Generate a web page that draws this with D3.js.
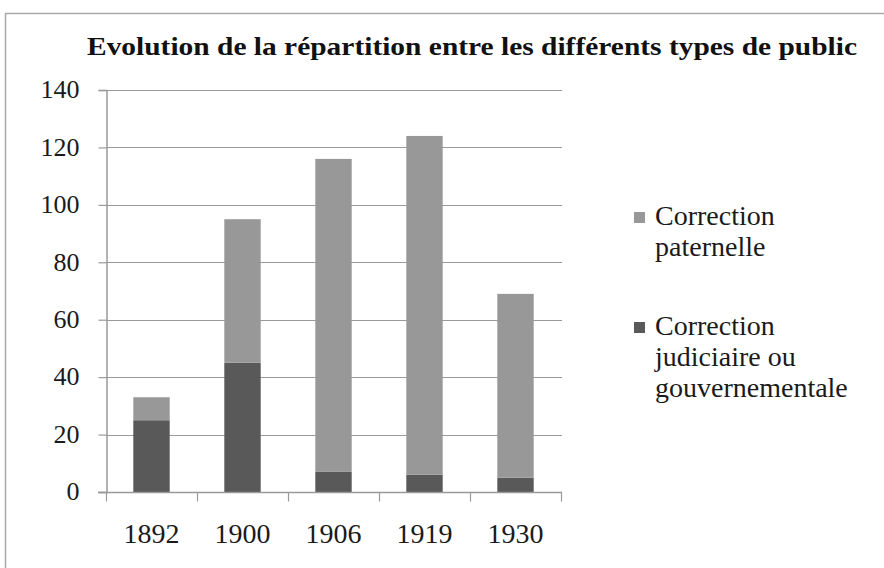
<!DOCTYPE html>
<html>
<head>
<meta charset="utf-8">
<script src="https://cdn.jsdelivr.net/npm/d3@7"></script>
<style>
    html, body { margin: 0; padding: 0; background: #fff; }
    svg { display: block; }
    svg text { font-family: "Liberation Serif", "Times New Roman", serif !important; }
</style>
</head>
<body>
<svg id="chart" width="884" height="568"></svg>
<script>
(function () {
    'use strict';

    // data
    const years = ['1892', '1900', '1906', '1919', '1930'];
    const judiciaire = [25, 45, 7, 6, 5];
    const paternelle = [8, 50, 109, 118, 64];
    const yTicks = [0, 20, 40, 60, 80, 100, 120, 140];
    const seriesKeys = ['judiciaire', 'paternelle'];
    const legendItems = [
        { key: 'paternelle', lines: ['Correction', 'paternelle'] },
        { key: 'judiciaire', lines: ['Correction', 'judiciaire ou', 'gouvernementale'] },
    ];
    const title = 'Evolution de la répartition entre les différents types de public';

    const colors = { paternelle: '#989898', judiciaire: '#595959' };
    const plot = { left: 106, right: 561, top: 90, bottom: 492 };

    const svg = d3.select('#chart');

    // outer chart frame
    svg.append('rect')
        .attr('x', 5.5).attr('y', 13.5)
        .attr('width', 890).attr('height', 570)
        .attr('fill', 'none')
        .attr('stroke', '#a8a8a8')
        .attr('stroke-width', 1.5);

    svg.append('text')
        .attr('x', 87).attr('y', 55)
        .attr('font-size', 26)
        .attr('font-weight', 700)
        .attr('fill', '#111')
        .attr('textLength', 770)
        .attr('lengthAdjust', 'spacingAndGlyphs')
        .text(title);

    const rows = years.map((year, i) => ({ year, judiciaire: judiciaire[i], paternelle: paternelle[i] }));
    const stacked = d3.stack().keys(seriesKeys)(rows);

    const x = d3.scaleBand()
        .domain(years)
        .range([plot.left, plot.right])
        .paddingInner(0.6)
        .paddingOuter(0.3);

    const y = d3.scaleLinear()
        .domain([0, 140])
        .range([plot.bottom, plot.top]);

    // gridlines
    svg.append('g')
        .selectAll('line')
        .data(yTicks.filter((d) => d > 0))
        .join('line')
        .attr('x1', plot.left).attr('x2', plot.right + 1)
        .attr('y1', (d) => Math.round(y(d)) + 0.5)
        .attr('y2', (d) => Math.round(y(d)) + 0.5)
        .attr('stroke', '#9a9a9a')
        .attr('stroke-width', 1.2);

    // bars
    svg.append('g')
        .selectAll('g')
        .data(stacked)
        .join('g')
        .attr('fill', (s) => colors[s.key])
        .selectAll('rect')
        .data((s) => s)
        .join('rect')
        .attr('x', (d) => x(d.data.year))
        .attr('width', x.bandwidth())
        .attr('y', (d) => y(d[1]))
        .attr('height', (d) => y(d[0]) - y(d[1]));

    // y axis
    const yAxis = svg.append('g')
        .attr('transform', `translate(${plot.left + 0.5},0)`)
        .call(d3.axisLeft(y).tickValues(yTicks).tickSize(8).tickPadding(19));
    yAxis.select('.domain').attr('stroke', '#9a9a9a').attr('stroke-width', 1.5);
    yAxis.selectAll('.tick line').attr('stroke', '#9a9a9a').attr('stroke-width', 1.2);
    yAxis.selectAll('.tick text')
        .attr('font-size', 26)
        .attr('fill', '#1a1a1a')
        .attr('dy', '0.3em');

    // x axis with ticks between categories
    const xEdges = d3.scaleLinear().domain([0, years.length]).range([plot.left, plot.right]);
    const xAxis = svg.append('g')
        .attr('transform', `translate(0,${plot.bottom + 0.5})`);
    xAxis.append('line')
        .attr('x1', plot.left - 8).attr('x2', plot.right + 1)
        .attr('stroke', '#9a9a9a').attr('stroke-width', 1.5);
    xAxis.selectAll('line.edge')
        .data(d3.range(years.length + 1))
        .join('line')
        .attr('class', 'edge')
        .attr('x1', (d) => Math.round(xEdges(d)) + 0.5)
        .attr('x2', (d) => Math.round(xEdges(d)) + 0.5)
        .attr('y1', 0).attr('y2', 9)
        .attr('stroke', '#9a9a9a').attr('stroke-width', 1.2);
    xAxis.selectAll('text')
        .data(years)
        .join('text')
        .attr('x', (d) => x(d) + x.bandwidth() / 2)
        .attr('y', 50)
        .attr('text-anchor', 'middle')
        .attr('font-size', 28)
        .attr('fill', '#1a1a1a')
        .text((d) => d);

    // legend
    const legendTops = [212, 322];
    const legend = svg.append('g');
    legendItems.forEach((item, i) => {
        const top = legendTops[i];
        legend.append('rect')
            .attr('x', 634).attr('y', top)
            .attr('width', 11).attr('height', 11)
            .attr('fill', colors[item.key]);
        legend.append('text')
            .attr('font-size', 28)
            .attr('fill', '#1a1a1a')
            .selectAll('tspan')
            .data(item.lines)
            .join('tspan')
            .attr('x', 655)
            .attr('y', (d, j) => top + 13 + j * 31)
            .text((d) => d);
    });
})();
</script>
</body>
</html>
